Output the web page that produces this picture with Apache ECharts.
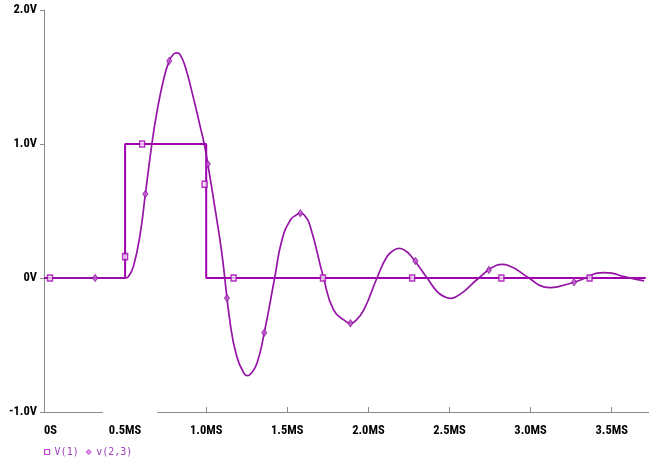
<!DOCTYPE html>
<html>
<head>
<meta charset="utf-8">
<script src="https://cdn.jsdelivr.net/npm/echarts@6/dist/echarts.min.js"></script>
<style>
html,body{margin:0;padding:0;background:#fff;}
#chart{width:657px;height:461px;}
</style>
</head>
<body>
<div id="chart"></div>
<script>
// ---- data (time in ms, voltage in V) ----
const xTickValues = [0, 0.5, 1.0, 1.5, 2.0, 2.5, 3.0, 3.5];
const xTickLabels = ['0S', '0.5MS', '1.0MS', '1.5MS', '2.0MS', '2.5MS', '3.0MS', '3.5MS'];
const xTickMarks  = [1.0, 1.5, 2.0, 2.5, 3.0, 3.5];
const yTickLabels = ['-1.0V', '0V', '1.0V', '2.0V'];

const v1Time  = [0, 0.5, 0.5, 1.0, 1.0, 3.71];
const v1Value = [0, 0,   1,   1,   0,   0];

const v1MarkTime  = [0.037, 0.5, 0.605, 0.99, 1.169, 1.72, 2.27, 2.82, 3.364];
const v1MarkValue = [0,     0.16, 1,    0.7,  0,     0,    0,    0,    0];

const v23Time = [0, 0.3, 0.5, 0.52, 0.551, 0.593, 0.625, 0.665, 0.695, 0.737, 0.772, 0.798, 0.82,
  0.84, 0.87, 0.92, 0.963, 0.988, 1.01, 1.056, 1.097, 1.148, 1.189, 1.235, 1.255, 1.275, 1.313,
  1.358, 1.422, 1.467, 1.519, 1.555, 1.58, 1.605, 1.642, 1.724, 1.786, 1.865, 1.889, 1.913, 1.971,
  2.053, 2.115, 2.16, 2.19, 2.22, 2.259, 2.362, 2.424, 2.47, 2.506, 2.54, 2.588, 2.681, 2.79, 2.825,
  2.86, 2.99, 3.08, 3.123, 3.165, 3.268, 3.34, 3.41, 3.453, 3.5, 3.576, 3.70];
const v23Value = [0, 0, 0, 0.01, 0.085, 0.33, 0.627, 1.0, 1.23, 1.48, 1.62, 1.67, 1.68,
  1.665, 1.58, 1.35, 1.13, 1.0, 0.85, 0.507, 0.18, -0.338, -0.587, -0.715, -0.729, -0.715, -0.637,
  -0.408, 0, 0.284, 0.433, 0.47, 0.483, 0.47, 0.383, 0, -0.239, -0.328, -0.338, -0.328, -0.239,
  0, 0.16, 0.21, 0.221, 0.21, 0.17, 0, -0.102, -0.14, -0.152, -0.14, -0.102, 0, 0.095, 0.102,
  0.095, 0, -0.066, -0.072, -0.066, -0.032, 0, 0.036, 0.04, 0.036, 0.01, -0.022];

const v23MarkTime  = [0.315, 0.625, 0.772, 1.01, 1.128, 1.358, 1.58, 1.889, 2.29, 2.743, 3.268];
const v23MarkValue = [0,     0.627, 1.62,  0.85, -0.15, -0.408, 0.483, -0.338, 0.127, 0.06, -0.032];

const xMin = 0, xMax = 3.73, xStep = 0.5;
const yMin = -1, yMax = 2, yStep = 1;
const xAxisGap = [0.364, 0.698];
const xTickLen = 0.037; // in volts (~5 px)

// ---- styles ----
const purple1 = '#a000b0';
const purple2 = '#9414a6';
const axisGray = '#8a8a8a';
const labelFont = "'Roboto Condensed','Liberation Sans Narrow','DejaVu Sans Condensed','Liberation Sans',sans-serif";

const zip = (a, b) => a.map((v, i) => [v, b[i]]);

const axisSegments = [
  [{coord: [xMin, yMin]}, {coord: [xAxisGap[0], yMin]}],
  [{coord: [xAxisGap[1], yMin]}, {coord: [xMax, yMin]}]
].concat(xTickMarks.map(function (t) {
  return [{coord: [t, yMin]}, {coord: [t, yMin + xTickLen]}];
}));

const chart = echarts.init(document.getElementById('chart'), null, {renderer: 'canvas'});
chart.setOption({
  animation: false,
  backgroundColor: '#fff',
  grid: {left: 44, right: 8, top: 10, bottom: 49, containLabel: false},
  xAxis: {
    type: 'value', min: xMin, max: xMax, interval: xStep,
    axisLine: {show: false, onZero: false},
    axisTick: {show: false},
    splitLine: {show: false},
    axisLabel: {
      margin: 12, fontFamily: labelFont, fontWeight: 'bold', fontSize: 12.5, color: '#000',
      alignMinLabel: 'left', customValues: xTickValues,
      formatter: function (val) {
        const i = xTickValues.findIndex(function (t) { return Math.abs(t - val) < 1e-6; });
        return i >= 0 ? xTickLabels[i] : '';
      }
    }
  },
  yAxis: {
    type: 'value', min: yMin, max: yMax, interval: yStep,
    axisLine: {show: true, lineStyle: {color: axisGray, width: 1}},
    axisTick: {show: true, length: 4, lineStyle: {color: axisGray}},
    splitLine: {show: false},
    axisLabel: {
      margin: 7, fontFamily: labelFont, fontWeight: 'bold', fontSize: 12.5, color: '#000',
      formatter: function (val) { return yTickLabels[Math.round((val - yMin) / yStep)] || ''; }
    }
  },
  legend: {
    left: 39, top: 442, itemWidth: 5, itemHeight: 5, itemGap: 7, selectedMode: false,
    textStyle: {fontFamily: "'DejaVu Sans Mono',monospace", fontSize: 10, color: '#a040c0'},
    data: [
      {name: 'V(1)', icon: 'rect', itemStyle: {color: '#fff', borderColor: '#c040d0', borderWidth: 1.2}},
      {name: 'v(2,3)', icon: 'diamond', itemStyle: {color: '#e0a0ea', borderColor: '#c040d0', borderWidth: 1}}
    ]
  },
  series: [
    {
      name: 'axis', type: 'line', data: [], silent: true, symbol: 'none', clip: false,
      markLine: {
        silent: true, symbol: 'none', label: {show: false},
        lineStyle: {color: axisGray, width: 1, type: 'solid'},
        data: axisSegments
      }
    },
    {
      name: 'V(1)', type: 'line', data: zip(v1Time, v1Value), symbol: 'none',
      lineStyle: {color: purple1, width: 2}, itemStyle: {color: purple1}, z: 3
    },
    {
      name: 'v(2,3)', type: 'line', data: zip(v23Time, v23Value), symbol: 'none',
      smooth: 0.5,
      lineStyle: {color: purple2, width: 1.7}, itemStyle: {color: purple2}, z: 4
    },
    {
      name: 'V(1)', type: 'scatter', data: zip(v1MarkTime, v1MarkValue),
      symbol: 'rect', symbolSize: [5, 6],
      itemStyle: {color: '#f4e0f6', borderColor: purple1, borderWidth: 1.5}, z: 5
    },
    {
      name: 'v(2,3)', type: 'scatter', data: zip(v23MarkTime, v23MarkValue),
      symbol: 'diamond', symbolSize: [5, 7],
      itemStyle: {color: '#c060d0', borderColor: purple2, borderWidth: 1}, z: 6
    }
  ]
});
</script>
</body>
</html>
